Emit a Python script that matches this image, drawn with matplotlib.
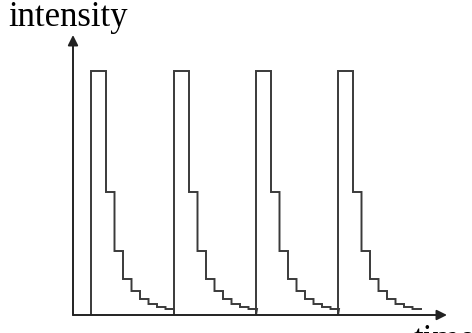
import matplotlib
matplotlib.use("Agg")
import matplotlib.pyplot as plt

# pulse train (time and intensity in arbitrary units)
pulse_starts = [18, 101, 183, 265]
pulse_width = 15
step_width = 8.5
peak = 244
decay_levels = [123, 64, 36, 24, 16, 11, 8, 6]

W, H = 472, 333
fig = plt.figure(figsize=(W / 100, H / 100), dpi=100)
ax = fig.add_axes([73 / W, 18 / H, (447 - 73) / W, 280 / H])
ax.set_xlim(0, 374)
ax.set_ylim(0, 280)
ax.axis("off")

line = dict(color="#3a3a3a", lw=1.4, solid_joinstyle="miter")

# build the staircase outline
xs, ys = [], []
for t0 in pulse_starts:
    xs += [t0, t0, t0 + pulse_width]
    ys += [0, peak, peak]
    t = t0 + pulse_width
    for lvl in decay_levels:
        xs += [t, t + step_width]
        ys += [lvl, lvl]
        t += step_width
ax.plot(xs, ys, **line)

# axes with arrow heads
arrow = dict(arrowstyle="-|>", color="#222", lw=1.4,
             mutation_scale=15, shrinkA=0, shrinkB=0)
ax.annotate("", xy=(0, 280), xytext=(0, 0), arrowprops=arrow)
ax.annotate("", xy=(374, 0), xytext=(0, 0), arrowprops=arrow)

# labels (the "time" label sits partly below the bottom edge, as in the source)
fig.text(8 / W, 1 - 26 / H, "intensity", family="Liberation Serif",
         fontsize=25, color="#000", ha="left", va="baseline")
fig.text(414 / W, 1 - 324 / H, "time", family="Liberation Serif",
         fontsize=25, color="#000", ha="left", va="top")

fig.savefig("out.png", dpi=100)
